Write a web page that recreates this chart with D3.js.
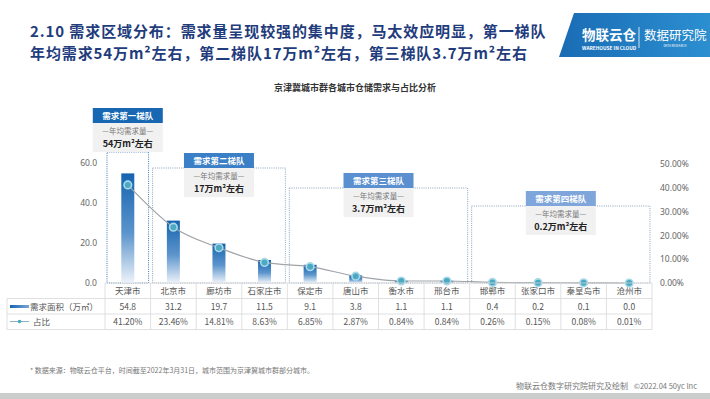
<!DOCTYPE html>
<html>
<head>
<meta charset="utf-8">
<script src="https://cdn.jsdelivr.net/npm/d3@7/dist/d3.min.js"></script>
<style>
  body { margin: 0; background: #fff; }
  svg { font-family: "Noto Sans CJK SC", "Noto Sans", sans-serif; display: block; }
</style>
</head>
<body>
<div id="chart"></div>
<script>
// data
var cities = ["天津市", "北京市", "廊坊市", "石家庄市", "保定市", "唐山市", "衡水市", "邢台市", "邯郸市", "张家口市", "秦皇岛市", "沧州市"];
var areaValues = [54.8, 31.2, 19.7, 11.5, 9.1, 3.8, 1.1, 1.1, 0.4, 0.2, 0.1, 0.0];
var shareValues = [41.20, 23.46, 14.81, 8.63, 6.85, 2.87, 0.84, 0.84, 0.26, 0.15, 0.08, 0.01];
var leftTicks = [0, 20, 40, 60];
var rightTicks = [0, 10, 20, 30, 40, 50];
var tierNames = ["需求第一梯队", "需求第二梯队", "需求第三梯队", "需求第四梯队"];
var tierAmounts = ["54万m²左右", "17万m²左右", "3.7万m²左右", "0.2万m²左右"];
var tierFirst = ["天津市", "北京市", "保定市", "邯郸市"];
var tierLast = ["天津市", "石家庄市", "邢台市", "沧州市"];
var tierTops = [65.5, 57.5, 47.5, 38.5];   // top of each dotted frame, left-axis units
var tierColors = ["#1767b3", "#3b7fc6", "#5a8fd0", "#7fa6da"];

var width = 710, height = 399;

var svg = d3.select("#chart").append("svg")
    .attr("width", width)
    .attr("height", height);

var defs = svg.append("defs");
var grad = defs.append("linearGradient").attr("id", "barGrad")
    .attr("x1", 0).attr("y1", 0).attr("x2", 0).attr("y2", 1);
grad.append("stop").attr("offset", "0%").attr("stop-color", "#1564b0");
grad.append("stop").attr("offset", "55%").attr("stop-color", "#5d95cc");
grad.append("stop").attr("offset", "100%").attr("stop-color", "#eef3fa");

var legGrad = defs.append("linearGradient").attr("id", "legGrad")
    .attr("x1", 0).attr("y1", 0).attr("x2", 1).attr("y2", 0);
legGrad.append("stop").attr("offset", "0%").attr("stop-color", "#1564b0");
legGrad.append("stop").attr("offset", "100%").attr("stop-color", "#7aa8d8");

var bannerGrad = defs.append("linearGradient").attr("id", "bannerGrad")
    .attr("x1", 0).attr("y1", 0).attr("x2", 1).attr("y2", 0);
bannerGrad.append("stop").attr("offset", "0%").attr("stop-color", "#1a6cb4");
bannerGrad.append("stop").attr("offset", "100%").attr("stop-color", "#2b8fd0");

// heading
var title = svg.append("g").attr("fill", "#1f3c7c").attr("font-weight", "bold")
    .attr("font-size", 15).attr("letter-spacing", 0.9);
title.append("text").attr("x", 30).attr("y", 36.5).text("2.10  需求区域分布：需求量呈现较强的集中度，马太效应明显，第一梯队");
title.append("text").attr("x", 30).attr("y", 58.5).text("年均需求54万m²左右，第二梯队17万m²左右，第三梯队3.7万m²左右");

// banner
svg.append("path")
    .attr("d", "M574,13 L710,13 L710,57 L559,57 Z")
    .attr("fill", "url(#bannerGrad)");
svg.append("text").attr("x", 582).attr("y", 40).attr("fill", "#fff")
    .attr("font-size", 13.5).attr("font-weight", "bold").text("物联云仓");
svg.append("text").attr("x", 582).attr("y", 50).attr("fill", "#fff")
    .attr("font-size", 4.8).attr("font-weight", "bold").text("WAREHOUSE IN CLOUD");
svg.append("line").attr("x1", 639).attr("x2", 639).attr("y1", 27).attr("y2", 48)
    .attr("stroke", "#fff").attr("stroke-width", 0.8);
svg.append("text").attr("x", 644).attr("y", 40).attr("fill", "#fff")
    .attr("font-size", 12.5).text("数据研究院");
svg.append("text").attr("x", 675).attr("y", 47).attr("fill", "#fff")
    .attr("font-size", 3).attr("text-anchor", "middle").text("DATA RESEARCH");

// chart title
svg.append("text").attr("x", 355).attr("y", 91).attr("text-anchor", "middle")
    .attr("font-size", 9).attr("font-weight", "bold").attr("fill", "#333")
    .text("京津冀城市群各城市仓储需求与占比分析");

var x = d3.scaleBand().domain(cities).range([105, 652]).padding(0);
var yL = d3.scaleLinear().domain([0, 60]).range([283, 163]);
var yR = d3.scaleLinear().domain([0, 50]).range([283, 164]);

// axes (labels only)
var leftAxis = svg.append("g").attr("transform", "translate(100,0)")
    .call(d3.axisLeft(yL).tickValues(leftTicks).tickSize(0).tickFormat(d3.format(".1f")));
leftAxis.select(".domain").remove();
leftAxis.selectAll("text").attr("fill", "#666").attr("font-size", 8.5)
    .attr("font-family", "'Noto Sans', sans-serif");

var rightAxis = svg.append("g").attr("transform", "translate(657,0)")
    .call(d3.axisRight(yR).tickValues(rightTicks).tickSize(0).tickFormat(function(d) { return d.toFixed(2) + "%"; }));
rightAxis.select(".domain").remove();
rightAxis.selectAll("text").attr("fill", "#666").attr("font-size", 8.5)
    .attr("font-family", "'Noto Sans', sans-serif");

// tier frames and labels
tierNames.forEach(function(name, i) {
    var x0 = x(tierFirst[i]) + 2, x1 = x(tierLast[i]) + x.bandwidth() - 2;
    var top = yL(tierTops[i]);
    svg.append("rect")
        .attr("x", x0).attr("y", top)
        .attr("width", x1 - x0).attr("height", yL(0) - top)
        .attr("fill", "none").attr("stroke", i === 0 ? "#3c78b8" : "#8aa2bd")
        .attr("stroke-width", 1).attr("stroke-dasharray", "1,1.2");
    var cx = (x0 + x1) / 2;
    var bw = 70;
    var labY = i === 0 ? top - 44 : top - 15;
    var g = svg.append("g");
    g.append("rect").attr("x", cx - bw / 2).attr("y", labY)
        .attr("width", bw).attr("height", 15).attr("fill", tierColors[i]);
    g.append("text").attr("x", cx).attr("y", labY + 10.8).attr("text-anchor", "middle")
        .attr("fill", "#fff").attr("font-size", 8.5).attr("font-weight", "bold").text(name);
    g.append("rect").attr("x", cx - bw / 2).attr("y", labY + 15)
        .attr("width", bw).attr("height", 29).attr("fill", "#f1f1f1");
    g.append("text").attr("x", cx).attr("y", labY + 26).attr("text-anchor", "middle")
        .attr("fill", "#777").attr("font-size", 7.5).text("—年均需求量—");
    g.append("text").attr("x", cx).attr("y", labY + 39).attr("text-anchor", "middle")
        .attr("fill", "#222").attr("font-size", 9).attr("font-weight", "bold")
        .text(tierAmounts[i]);
});

// bars
svg.append("g").selectAll("rect")
    .data(cities)
    .enter().append("rect")
    .attr("x", function(d) { return x(d) + x.bandwidth() / 2 - 6.5; })
    .attr("width", 13)
    .attr("y", function(d, i) { return yL(areaValues[i]); })
    .attr("height", function(d, i) { return yL(0) - yL(areaValues[i]); })
    .attr("fill", "url(#barGrad)");

// share line
var line = d3.line()
    .x(function(d) { return x(d) + x.bandwidth() / 2; })
    .y(function(d, i) { return yR(shareValues[i]); })
    .curve(d3.curveMonotoneX);
svg.append("path").datum(cities)
    .attr("d", line)
    .attr("fill", "none").attr("stroke", "#a0a4a8").attr("stroke-width", 1.2);
svg.append("g").selectAll("circle")
    .data(cities)
    .enter().append("circle")
    .attr("cx", function(d) { return x(d) + x.bandwidth() / 2; })
    .attr("cy", function(d, i) { return yR(shareValues[i]); })
    .attr("r", 3.8)
    .attr("fill", "#4ba9c4").attr("stroke", "#a9d9e8").attr("stroke-width", 1.6);

// data table
var rowY = [283, 298.5, 314, 329.5];
var table = svg.append("g").attr("stroke", "#d8d8d8").attr("stroke-width", 0.8);
table.append("line").attr("x1", 105).attr("x2", 652).attr("y1", rowY[0]).attr("y2", rowY[0]);
[1, 2, 3].forEach(function(r) {
    table.append("line").attr("x1", 7).attr("x2", 652).attr("y1", rowY[r]).attr("y2", rowY[r]);
});
table.append("line").attr("x1", 7).attr("x2", 7).attr("y1", rowY[1]).attr("y2", rowY[3]);
cities.forEach(function(c) {
    table.append("line").attr("x1", x(c)).attr("x2", x(c)).attr("y1", rowY[0]).attr("y2", rowY[3]);
});
table.append("line").attr("x1", 652).attr("x2", 652).attr("y1", rowY[0]).attr("y2", rowY[3]);

var cells = svg.append("g").attr("font-size", 8.5).attr("fill", "#555").attr("text-anchor", "middle");
cities.forEach(function(c, i) {
    var cx = x(c) + x.bandwidth() / 2;
    cells.append("text").attr("x", cx).attr("y", rowY[0] + 11).text(c);
    cells.append("text").attr("x", cx).attr("y", rowY[1] + 11).text(areaValues[i].toFixed(1));
    cells.append("text").attr("x", cx).attr("y", rowY[2] + 11).text(shareValues[i].toFixed(2) + "%");
});
// row legends
svg.append("rect").attr("x", 10).attr("y", 305).attr("width", 19).attr("height", 3).attr("fill", "url(#legGrad)");
svg.append("text").attr("x", 30).attr("y", rowY[1] + 11).attr("font-size", 8.5).attr("fill", "#555").text("需求面积（万㎡）");
svg.append("line").attr("x1", 10).attr("x2", 29).attr("y1", 321.5).attr("y2", 321.5).attr("stroke", "#8ab0cc").attr("stroke-width", 1);
svg.append("circle").attr("cx", 19.5).attr("cy", 321.5).attr("r", 1.8).attr("fill", "#4ba9c4");
svg.append("text").attr("x", 33).attr("y", rowY[2] + 11).attr("font-size", 8.5).attr("fill", "#555").text("占比");

// footer
svg.append("text").attr("x", 30).attr("y", 373).attr("font-size", 7).attr("fill", "#777")
    .text("* 数据来源：物联云仓平台，时间截至2022年3月31日，城市范围为京津冀城市群部分城市。");
svg.append("text").attr("x", 628).attr("y", 389).attr("font-size", 8).attr("fill", "#777")
    .attr("text-anchor", "end").text("物联云仓数字研究院研究及绘制");
svg.append("text").attr("x", 697).attr("y", 389).attr("font-size", 7.5).attr("fill", "#777")
    .attr("text-anchor", "end").text("©2022.04 50yc Inc");
svg.append("rect").attr("x", 0).attr("y", 393).attr("width", width).attr("height", 6).attr("fill", "#c9cdcb");
</script>
</body>
</html>
